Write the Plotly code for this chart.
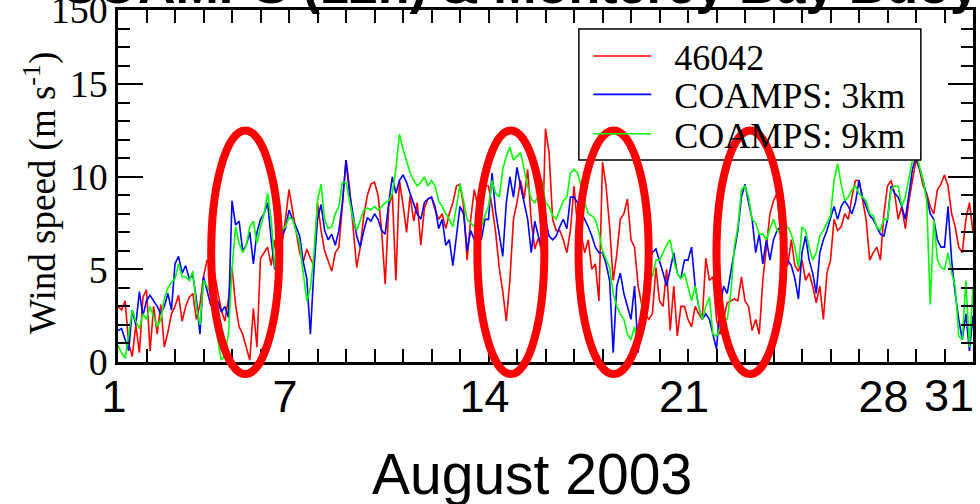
import numpy as np
import plotly.graph_objects as go

# ---------------- data (3-hourly, 1 Aug 00h .. 31 Aug 00h) ----------------
buoy_46042 = [
    3.0, 2.8, 3.3, 1.0, 0.3, 2.0, 0.5, 3.5,      # 1
    3.9, 0.6, 3.0, 1.5, 3.1, 0.8, 1.6, 2.6,      # 2
    3.0, 3.6, 2.2, 3.0, 3.5, 3.7, 2.3, 3.1,      # 3
    4.6, 5.5, 5.2, 4.9, 3.8, 2.8, 2.2, 3.4,      # 4
    5.1, 3.1, 1.9, 1.5, 0.8, 0.1, 2.9, 0.8,      # 5
    5.6, 5.9, 6.2, 5.2, 6.6, 4.9, 6.2, 7.7,      # 6
    9.3, 8.2, 6.9, 5.9, 5.4, 6.1, 5.6, 5.2,      # 7
    8.6, 7.1, 6.0, 5.5, 4.9, 5.9, 6.2, 8.5,      # 8
    10.9, 9.4, 7.3, 5.1, 6.2, 7.9, 9.0, 9.6,     # 9
    9.7, 9.0, 7.1, 4.2, 8.4, 9.1, 4.4, 9.8,      # 10
    8.5, 7.0, 9.0, 7.6, 8.6, 6.3, 8.3, 8.8,      # 11
    8.9, 8.2, 7.7, 8.0, 7.2, 8.0, 8.6, 9.5,      # 12
    9.6, 8.4, 5.5, 7.7, 9.3, 8.4, 9.8, 9.5,      # 13
    9.5, 8.4, 7.0, 5.1, 3.8, 2.2, 4.4, 7.7,      # 14
    8.6, 9.8, 8.8, 10.4, 7.6, 6.1, 6.7, 5.9,     # 15
    12.6, 11.3, 7.7, 7.1, 7.1, 6.6, 5.9, 7.1,    # 16
    9.5, 7.3, 6.9, 5.9, 6.6, 5.0, 5.3, 3.3,      # 17
    10.8, 9.5, 7.3, 4.4, 5.8, 7.7, 8.0, 8.8,     # 18
    6.6, 6.2, 4.1, 3.1, 2.6, 2.3, 2.6, 5.1,      # 19
    3.3, 3.0, 5.0, 1.7, 4.1, 1.4, 3.0, 3.0,      # 20
    2.3, 1.9, 3.0, 2.6, 2.3, 5.6, 4.4, 4.6,      # 21
    2.3, 1.5, 2.3, 3.2, 3.3, 3.4, 3.3, 4.6,      # 22
    3.3, 3.0, 1.7, 2.3, 1.5, 4.4, 6.2, 8.0,      # 23
    8.7, 9.1, 6.9, 7.1, 5.2, 6.6, 5.2, 4.9,      # 24
    5.5, 4.4, 4.8, 4.1, 3.2, 4.1, 2.3, 4.8,      # 25
    5.5, 7.7, 7.1, 7.3, 8.0, 7.7, 8.9, 9.8,      # 26
    9.8, 8.7, 7.7, 5.5, 5.9, 6.2, 5.5, 8.0,      # 27
    9.5, 9.8, 9.1, 7.7, 8.4, 7.2, 8.7, 9.8,      # 28
    10.9, 10.4, 9.5, 9.1, 8.4, 8.0, 9.3, 9.6,    # 29
    10.1, 9.5, 8.0, 7.3, 6.2, 5.9, 7.7, 8.6,     # 30
    7.0,                                         # 31
]

coamps_3km = [
    1.7, 1.8, 1.2, 0.6, 2.8, 2.0, 3.8, 2.5,
    3.3, 3.6, 3.3, 3.0, 2.6, 3.0, 3.7, 2.8,
    5.3, 5.7, 4.8, 5.2, 4.5, 4.7, 3.4, 1.5,
    4.6, 3.8, 3.1, 2.9, 3.3, 2.7, 3.0, 2.4,
    8.7, 7.4, 7.6, 6.0, 6.3, 7.0, 5.3, 7.0,
    7.7, 8.0, 8.6, 6.6, 5.0, 5.9, 6.8, 7.2,
    8.2, 7.7, 7.3, 6.8, 5.4, 4.5, 1.5, 5.0,
    7.7, 8.5, 7.1, 6.6, 6.9, 6.3, 7.1, 8.6,
    10.9, 9.1, 8.0, 6.8, 6.2, 7.1, 7.8, 7.6,
    8.0, 7.7, 7.1, 6.9, 8.6, 10.0, 9.1, 9.8,
    10.1, 9.7, 9.1, 8.6, 8.0, 7.7, 8.6, 8.8,
    8.9, 8.4, 7.2, 7.7, 6.3, 6.6, 5.2, 6.8,
    8.4, 8.0, 6.0, 7.1, 6.6, 6.9, 6.6, 7.7,
    7.7, 10.2, 8.1, 6.9, 5.7, 8.6, 10.0, 8.9,
    10.5, 9.5, 8.6, 7.7, 5.9, 7.6, 6.8, 6.2,
    7.7, 6.8, 6.6, 6.8, 7.3, 7.7, 7.2, 8.9,
    8.9, 8.6, 8.1, 7.7, 7.3, 6.8, 6.2, 5.9,
    5.9, 5.3, 4.4, 0.5, 4.1, 4.8, 3.7, 3.0,
    2.3, 4.1, 0.5, 2.3, 4.8, 5.5, 5.9, 6.1,
    5.5, 4.8, 4.1, 5.1, 5.9, 4.8, 4.5, 5.5,
    5.5, 6.2, 4.1, 3.0, 2.3, 2.6, 2.3, 1.5,
    0.7, 3.0, 4.1, 3.7, 4.8, 5.9, 7.1, 8.9,
    9.6, 8.6, 7.7, 5.9, 6.9, 5.3, 6.6, 5.5,
    6.6, 7.1, 7.3, 5.5, 5.5, 5.2, 4.5, 3.4,
    5.9, 6.8, 5.5, 4.8, 3.7, 5.9, 6.6, 7.1,
    7.7, 8.4, 7.7, 8.4, 8.7, 8.4, 8.0, 8.6,
    9.8, 8.9, 8.4, 7.9, 7.7, 7.3, 6.9, 6.8,
    7.7, 9.5, 9.1, 8.9, 8.4, 7.7, 9.1, 10.4,
    11.1, 10.5, 9.8, 8.9, 8.0, 7.7, 6.6, 6.2,
    6.2, 8.4, 5.5, 3.7, 2.3, 1.2, 2.6, 0.6,
    2.5,
]

coamps_9km = [
    0.9, 0.5, 0.2, 1.6, 2.8, 2.2, 1.8, 2.6,
    2.3, 3.0, 2.5, 1.9, 2.3, 3.4, 4.0, 4.3,
    4.5, 5.3, 4.6, 4.6, 4.4, 4.9, 3.0, 2.0,
    4.4, 4.1, 3.7, 2.3, 1.2, 0.1, 0.4, 1.5,
    5.0, 7.3, 6.4, 5.9, 6.3, 7.3, 7.6, 6.4,
    7.3, 8.0, 9.1, 7.7, 5.1, 6.2, 7.1, 7.3,
    7.8, 7.7, 7.1, 6.4, 4.8, 3.3, 4.0, 5.8,
    8.7, 9.6, 7.7, 7.2, 7.3, 8.0, 8.4, 9.7,
    9.7, 8.7, 7.7, 7.1, 7.7, 8.2, 8.3, 8.2,
    8.4, 8.2, 8.4, 8.6, 8.7, 9.1, 10.4, 12.3,
    11.5, 10.9, 10.2, 9.8, 9.5, 9.7, 10.0, 9.5,
    9.8, 9.5, 8.7, 8.4, 8.0, 7.7, 7.3, 8.4,
    9.6, 8.7, 7.7, 7.5, 7.3, 7.9, 7.3, 7.9,
    8.4, 9.8, 9.1, 8.9, 10.4, 11.1, 11.6, 10.9,
    11.1, 11.3, 10.4, 9.5, 8.8, 8.6, 9.0, 9.8,
    8.6, 8.4, 7.9, 7.7, 8.2, 8.7, 8.9, 10.2,
    10.4, 10.2, 9.5, 8.6, 8.0, 7.9, 7.7, 7.0,
    6.0, 5.5, 5.1, 3.7, 3.0, 2.6, 2.3, 1.5,
    1.2, 1.9, 0.8, 3.0, 4.4, 5.0, 4.6, 5.5,
    5.5, 5.9, 6.3, 6.6, 5.5, 4.8, 4.5, 4.8,
    4.1, 3.3, 4.1, 3.0, 2.3, 3.0, 3.5, 1.5,
    1.4, 1.9, 2.3, 2.3, 3.7, 6.2, 7.3, 9.3,
    9.5, 8.9, 7.7, 7.5, 6.9, 6.9, 6.6, 7.2,
    7.7, 7.1, 6.9, 7.3, 7.3, 6.9, 6.2, 5.1,
    7.3, 7.1, 6.2, 5.5, 5.9, 6.8, 7.1, 7.5,
    7.9, 9.8, 10.7, 9.6, 8.7, 8.9, 9.3, 9.5,
    9.1, 8.9, 8.7, 8.0, 7.9, 7.3, 7.1, 7.7,
    7.7, 9.3, 9.5, 9.5, 8.4, 8.9, 10.0, 10.9,
    11.3, 10.5, 9.8, 8.7, 3.1, 7.7, 5.5, 5.1,
    5.0, 5.9, 4.8, 4.1, 1.4, 1.2, 4.4, 0.8,
    4.0,
]

series_names = ["46042", "COAMPS: 3km", "COAMPS: 9km"]
series_colors = ["#ff0000", "#0000ff", "#00ff00"]

x_tick_days = [1, 7, 14, 21, 28]
x_last_day = 31
y_tick_vals = [0, 5, 10, 15, 19]
y_tick_text = ["0", "5", "10", "15", "150"]

# highlighted episodes (day ranges, wind-speed range of the ellipses)
ellipse_days = [(4.27, 6.66), (13.61, 15.96), (17.16, 19.62), (22.0, 24.36)]
ellipse_speed = (-0.65, 12.5)

title_text = "COAMPS (12h) & Monterey Bay Buoy"
x_title = "August 2003"
y_title = "Wind speed (m s<sup>-1</sup>)"

# ---------------- figure ----------------
Y_MAX = 19.0
days = 1 + np.arange(len(buoy_46042)) / 8.0

legend_ids = ["legend", "legend2", "legend3"]
fig = go.Figure()
for name, vals, col, lg in zip(series_names, [buoy_46042, coamps_3km, coamps_9km],
                               series_colors, legend_ids):
    fig.add_trace(go.Scatter(x=days, y=vals, mode="lines", name="  " + name,
                             legend=lg, line=dict(color=col, width=1.6)))

# legend frame (white box with black border)
fig.add_shape(type="rect", xref="paper", yref="paper", x0=0.539, x1=0.939,
              y0=0.574, y1=0.946, fillcolor="white",
              line=dict(color="black", width=1.5), layer="above")

for d0, d1 in ellipse_days:
    fig.add_shape(type="circle", xref="x", yref="paper", x0=d0, x1=d1,
                  y0=ellipse_speed[0] / Y_MAX, y1=ellipse_speed[1] / Y_MAX,
                  line=dict(color="#ff0000", width=8), layer="above")

serif = "Liberation Serif, Times New Roman, serif"
sans = "Liberation Sans, Arial, sans-serif"
X_TICK_SIZE = 45

def legend_cfg(ypos):
    return dict(x=0.55, y=ypos, xanchor="left", yanchor="middle",
                bgcolor="rgba(0,0,0,0)", borderwidth=0,
                font=dict(family=serif, size=36, color="black"),
                itemwidth=58)

fig.update_layout(
    width=980, height=504,
    margin=dict(l=118, r=7, t=10, b=142, autoexpand=False),
    paper_bgcolor="white", plot_bgcolor="white",
    showlegend=True,
    legend=legend_cfg(0.869),
    legend2=legend_cfg(0.76),
    legend3=legend_cfg(0.648),
    xaxis=dict(range=[1, x_last_day], tickmode="array", tickvals=x_tick_days,
               automargin=False,
               ticks="inside", ticklen=13, tickwidth=2, tickcolor="black",
               showline=True, linecolor="black", linewidth=2.5, mirror="ticks",
               showgrid=False, zeroline=False,
               tickfont=dict(family=sans, size=X_TICK_SIZE, color="black"),
               ticklabelstandoff=-7, ticklabelshift=-4, ticklabeloverflow="allow",
               minor=dict(tickmode="linear", tick0=1, dtick=1, ticks="inside",
                          ticklen=13, tickwidth=2, tickcolor="black", showgrid=False)),
    yaxis=dict(range=[0, Y_MAX], tickmode="array", tickvals=y_tick_vals,
               ticktext=y_tick_text, automargin=False,
               ticks="inside", ticklen=25, tickwidth=2, tickcolor="black",
               showline=True, linecolor="black", linewidth=2.5, mirror="ticks",
               showgrid=False, zeroline=False,
               tickfont=dict(family=serif, size=38, color="black"),
               ticklabelstandoff=0, ticklabeloverflow="allow",
               minor=dict(tickmode="linear", tick0=0, dtick=1, ticks="inside",
                          ticklen=12, tickwidth=2, tickcolor="black", showgrid=False)),
    annotations=[
        # last day label, right-aligned at the right end of the axis
        dict(text=str(x_last_day), xref="x", yref="paper", x=x_last_day, y=-0.096,
             xanchor="right", yanchor="middle", showarrow=False, xshift=3,
             font=dict(family=sans, size=X_TICK_SIZE, color="black")),
        dict(text=y_title, xref="paper", yref="paper", x=-0.091, y=0.481,
             xanchor="center", yanchor="middle", textangle=-90, showarrow=False,
             font=dict(family=serif, size=37, color="black")),
        dict(text=x_title, xref="paper", yref="paper", x=0.484, y=-0.318,
             xanchor="center", yanchor="middle", showarrow=False,
             font=dict(family=sans, size=57, color="black")),
        dict(text="<b>" + title_text + "</b>", xref="paper", yref="paper",
             x=0.47, y=1.07, xanchor="center", yanchor="middle", showarrow=False,
             font=dict(family=sans, size=52, color="black")),
    ],
)

fig.write_html("out.html")
